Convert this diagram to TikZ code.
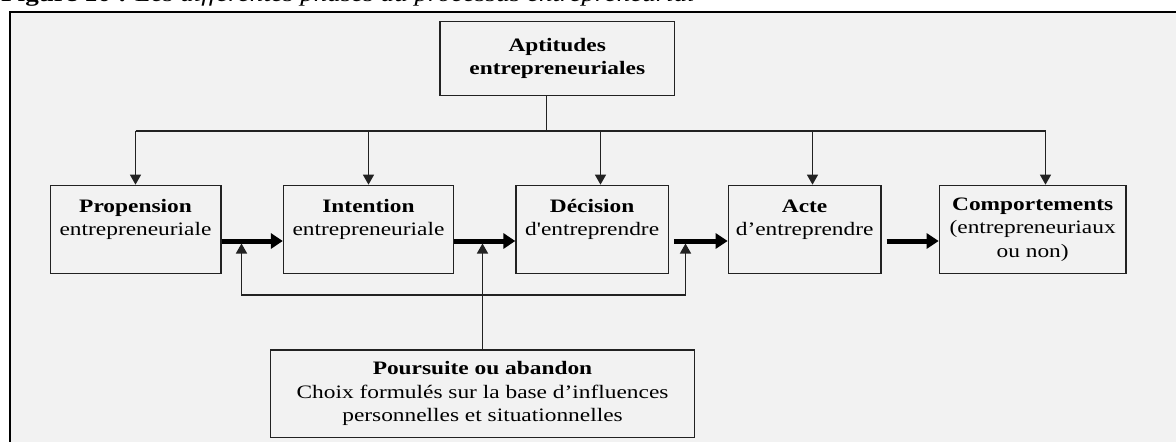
\documentclass[tikz,border=0pt]{standalone}
\usepackage{fontspec}
\setmainfont{Liberation Serif}[FakeStretch=1.23]
\newfontfamily\plainquote{Liberation Serif}[FakeStretch=1.23, Ligatures=TeXOff]
\usetikzlibrary{arrows.meta}
\definecolor{panel}{HTML}{F2F2F2}
\definecolor{edge}{HTML}{222222}

\begin{document}
\begin{tikzpicture}[x=1pt, y=-1pt,
  every node/.style={font=\fontsize{19}{23.5}\selectfont},
  box/.style={draw=edge, fill=panel, line width=1.3pt, inner sep=0pt, align=center},
  link/.style={draw=edge, line width=1.4pt},
  thin tip/.style={link, -{Triangle[length=10pt, width=11pt]}},
  bold tip/.style={draw=black, line width=5pt, -{Triangle[length=12pt, width=15pt]}},
]
% page and background panel
\useasboundingbox (0,0) rectangle (1176,442);
\fill[white] (0,0) rectangle (1176,442);
\draw[line width=2pt, fill=panel] (10,12) rectangle (1200,470);

% caption (its upper half lies above the page)
\node[anchor=base west, inner sep=0pt, font=\fontsize{22}{26}\selectfont] (caption) at (1,1.5)
  {\textbf{Figure 10 :} \textit{Les différentes phases du processus entrepreneurial}};

% boxes
\node[box, minimum width=234.5pt, minimum height=74pt] (apt) at (557.25,58.5)
  {\textbf{Aptitudes}\\\textbf{entrepreneuriales}};
\node[box, minimum width=170.7pt, minimum height=88pt] (prop) at (135.5,229.3)
  {\textbf{Propension}\\entrepreneuriale\\\mbox{}};
\node[box, minimum width=170pt, minimum height=88pt] (int) at (368.5,229.3)
  {\textbf{Intention}\\entrepreneuriale\\\mbox{}};
\node[box, minimum width=152.3pt, minimum height=88pt] (dec) at (592.15,229.3)
  {\textbf{Décision}\\{\plainquote d'entreprendre}\\\mbox{}};
\node[box, minimum width=152.7pt, minimum height=88pt] (acte) at (804.65,229.3)
  {\textbf{Acte}\\d’entreprendre\\\mbox{}};
\node[box, minimum width=186.7pt, minimum height=88pt] (comp) at (1032.65,229.3)
  {\textbf{Comportements}\\(entrepreneuriaux\\ou non)};
\node[box, minimum width=424.3pt, minimum height=87.3pt] (pour) at (482.5,393.65)
  {\textbf{Poursuite ou abandon}\\Choix formulés sur la base d’influences\\personnelles et situationnelles};

% distribution from the aptitudes to every phase
\coordinate (hub) at (546.5,131);
\draw[link] (apt.south -| hub) -- (hub);
\foreach \n/\x in {prop/135.5, int/368.5, dec/600.5, acte/812.5, comp/1045.5} {
  \coordinate (d\n) at (\x,131);
  \draw[thin tip] (d\n) -- (d\n |- \n.north);
}
\draw[link] (dprop) -- (dcomp);

% main chain of phases
\coordinate (row) at (0,241);
\draw[bold tip] (prop.east |- row) -- (int.west |- row);
\draw[bold tip] (int.east |- row) -- (dec.west |- row);
\draw[bold tip, shorten <=5pt] (dec.east |- row) -- (acte.west |- row);
\draw[bold tip, shorten <=5pt] (acte.east |- row) -- (comp.west |- row);

% feedback loop and influence of the choices
\coordinate (tipL) at (241.5,243.5);
\coordinate (tipR) at (685.5,243.5);
\coordinate (loop) at (0,295);
\draw[link, {Triangle[length=10pt, width=11pt]}-{Triangle[length=10pt, width=11pt]}]
  (tipL) -- (tipL |- loop) -- (tipR |- loop) -- (tipR);
\draw[thin tip] (pour.north) -- (pour.north |- tipL);
\end{tikzpicture}
\end{document}
